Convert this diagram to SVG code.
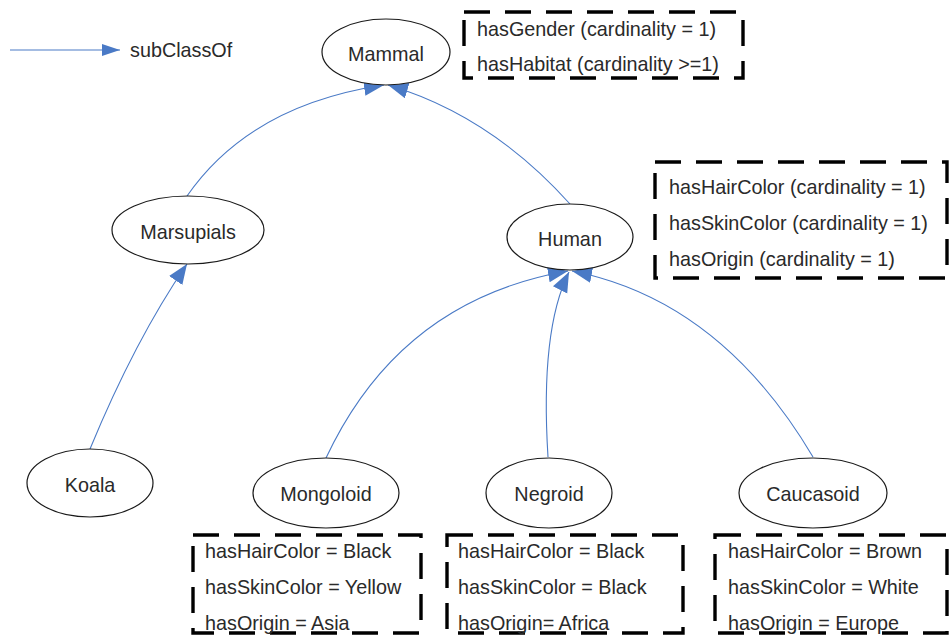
<svg xmlns="http://www.w3.org/2000/svg" width="950" height="637" viewBox="0 0 950 637">
  <style>
    .node ellipse { fill: #ffffff; stroke: #1a1a1a; stroke-width: 1.2; }
    .label { font-family: "Liberation Sans", Arial, sans-serif; font-size: 19.8px; fill: #2a2a2a; }
    .node .label { text-anchor: middle; }
    .props rect { fill: none; stroke: #000000; stroke-width: 3.4; stroke-dasharray: 26 15; }
    .edge { fill: none; stroke: #4a7ac6; stroke-width: 1.1; }
  </style>
  <defs>
    <marker id="tri" markerUnits="userSpaceOnUse" markerWidth="22" markerHeight="18" refX="20" refY="8" orient="auto">
      <path d="M0,0 L20,8 L0,16 z" fill="#4a7ac6"/>
    </marker>
    <marker id="tri-small" markerUnits="userSpaceOnUse" markerWidth="20" markerHeight="14" refX="18" refY="6" orient="auto">
      <path d="M0,0 L18,6 L0,12 z" fill="#4a7ac6"/>
    </marker>
  </defs>

  <!-- legend -->
  <g id="legend">
    <line class="edge" x1="10" y1="50" x2="120" y2="50" marker-end="url(#tri-small)"/>
    <text class="label" x="130" y="57">subClassOf</text>
  </g>

  <!-- subClassOf connectors -->
  <g id="connectors">
    <path class="edge" d="M187,196 Q250,105 384,85" marker-end="url(#tri)"/>
    <path class="edge" d="M570,204 Q490,115 388,85" marker-end="url(#tri)"/>
    <path class="edge" d="M90,449 Q135,340 187,264" marker-end="url(#tri)"/>
    <path class="edge" d="M326,458 Q400,300 568,271" marker-end="url(#tri)"/>
    <path class="edge" d="M548,457 Q540,330 569,272" marker-end="url(#tri)"/>
    <path class="edge" d="M813,457 Q720,300 572,271" marker-end="url(#tri)"/>
  </g>

  <!-- class nodes -->
  <g id="mammal" class="node">
    <ellipse cx="386" cy="52" rx="64" ry="33"/>
    <text class="label" x="386" y="61">Mammal</text>
  </g>
  <g id="marsupials" class="node">
    <ellipse cx="188" cy="230" rx="76" ry="34"/>
    <text class="label" x="188" y="239">Marsupials</text>
  </g>
  <g id="human" class="node">
    <ellipse cx="570" cy="237" rx="63" ry="33"/>
    <text class="label" x="570" y="246">Human</text>
  </g>
  <g id="koala" class="node">
    <ellipse cx="90" cy="483" rx="63" ry="34"/>
    <text class="label" x="90" y="492">Koala</text>
  </g>
  <g id="mongoloid" class="node">
    <ellipse cx="326" cy="493" rx="73" ry="35"/>
    <text class="label" x="326" y="501">Mongoloid</text>
  </g>
  <g id="negroid" class="node">
    <ellipse cx="549" cy="493" rx="63" ry="35"/>
    <text class="label" x="549" y="501">Negroid</text>
  </g>
  <g id="caucasoid" class="node">
    <ellipse cx="813" cy="493" rx="74" ry="35"/>
    <text class="label" x="813" y="501">Caucasoid</text>
  </g>

  <!-- property boxes -->
  <g id="mammal-props" class="props">
    <rect x="464" y="12" width="279" height="66"/>
    <text class="label" x="477" y="36">hasGender (cardinality = 1)</text>
    <text class="label" x="477" y="71">hasHabitat (cardinality &gt;=1)</text>
  </g>
  <g id="human-props" class="props">
    <rect x="655" y="162" width="292" height="116"/>
    <text class="label" x="669" y="194">hasHairColor (cardinality = 1)</text>
    <text class="label" x="669" y="230">hasSkinColor (cardinality = 1)</text>
    <text class="label" x="669" y="266">hasOrigin (cardinality = 1)</text>
  </g>
  <g id="mongoloid-props" class="props">
    <rect x="193" y="535" width="228" height="98"/>
    <text class="label" x="205" y="558">hasHairColor = Black</text>
    <text class="label" x="205" y="594">hasSkinColor = Yellow</text>
    <text class="label" x="205" y="630">hasOrigin = Asia</text>
  </g>
  <g id="negroid-props" class="props">
    <rect x="447" y="535" width="236" height="98"/>
    <text class="label" x="458" y="558">hasHairColor = Black</text>
    <text class="label" x="458" y="594">hasSkinColor = Black</text>
    <text class="label" x="458" y="630">hasOrigin= Africa</text>
  </g>
  <g id="caucasoid-props" class="props">
    <rect x="715" y="535" width="232" height="98"/>
    <text class="label" x="728" y="558">hasHairColor = Brown</text>
    <text class="label" x="728" y="594">hasSkinColor = White</text>
    <text class="label" x="728" y="630">hasOrigin = Europe</text>
  </g>
</svg>
